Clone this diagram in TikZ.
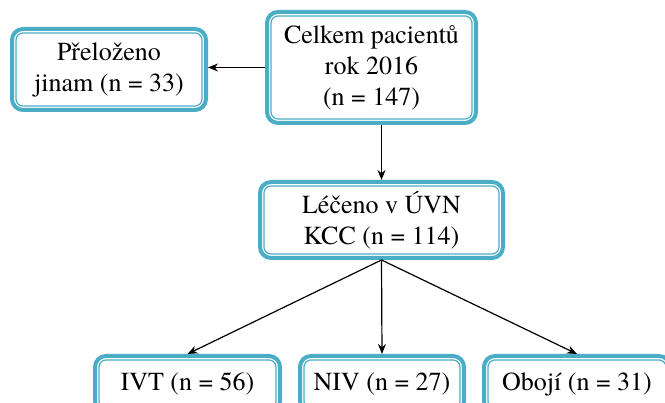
\documentclass[tikz,border=0pt]{standalone}
\usepackage{fontspec}
\setmainfont{texgyretermes-regular.otf}
\usetikzlibrary{positioning, arrows.meta, calc}
\definecolor{boxblue}{RGB}{75,172,198}
\tikzset{
    box/.style={draw=boxblue, line width=1.2pt, rounded corners=7pt, align=center,
        inner sep=0pt, outer sep=6pt, font=\fontsize{26}{31}\selectfont},
    frame/.style={draw=boxblue, line width=4pt, rounded corners=11pt},
    arr/.style={-{Stealth[length=10pt,width=8pt]}, line width=1.2pt}
}

\begin{document}
\begin{tikzpicture}[x=1pt, y=1pt]
    % page size, the lower boxes run off the edge
    \clip (0,0) rectangle (665,403);

    % boxes
    \node[box, minimum width=186, minimum height=73] (pre) at (109,333.5) {Přeloženo\\jinam (n = 33)};
    \node[box, minimum width=201, minimum height=103] (celk) at (371.5,335.5) {Celkem pacientů\\rok 2016\\(n = 147)};
    \node[box, minimum width=235, minimum height=68] (lec) at (381.5,183) {Léčeno v ÚVN\\KCC (n = 114)};
    \node[box, minimum width=177, minimum height=48] (ivt) at (187.5,19) {IVT (n = 56)};
    \node[box, minimum width=156, minimum height=48] (niv) at (382,19) {NIV (n = 27)};
    \node[box, minimum width=178, minimum height=48] (oboj) at (577,19) {Obojí (n = 31)};

    % thick outer frame round every box
    \foreach \n in {pre,celk,lec,ivt,niv,oboj}
    {
        \draw[frame] ([shift={(2,2)}]\n.south west) rectangle ([shift={(-2,-2)}]\n.north east);
    }

    % arrows
    \draw[arr] (celk.west) -- (celk.west -| pre.east);
    \draw[arr] (celk.south -| lec.north) -- (lec.north);
    \foreach \n in {ivt,niv,oboj}
    {
        \draw[arr] (lec.south) -- (\n.north);
    }
\end{tikzpicture}
\end{document}
